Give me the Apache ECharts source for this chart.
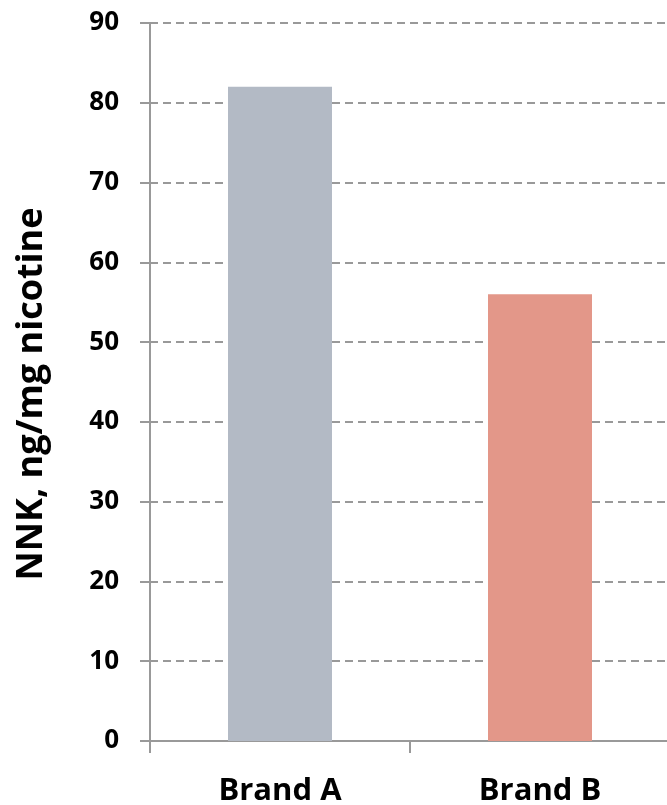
<!DOCTYPE html>
<html>
<head>
<meta charset="utf-8">
<script src="https://cdn.jsdelivr.net/npm/echarts@6/dist/echarts.min.js"></script>
<style>
html,body{margin:0;padding:0;background:#fff;}
#chart{width:667px;height:805px;}
</style>
</head>
<body>
<div id="chart"></div>
<script>
const categories = ['Brand A', 'Brand B'];
const values = [82, 56];
const barColors = ['#B3BAC5', '#E39789'];
const yTitle = 'NNK, ng/mg nicotine';
const yMin = 0, yMax = 90, yStep = 10;

const chart = echarts.init(document.getElementById('chart'), null, {renderer: 'canvas'});
const axisColor = '#999999';
const fontFam = '"Open Sans"';
chart.setOption({
  animation: false,
  backgroundColor: '#ffffff',
  grid: {left: 150, top: 23, width: 520, height: 718, outerBoundsMode: 'none', containLabel: false},
  xAxis: {
    type: 'category',
    data: categories,
    boundaryGap: true,
    axisLine: {show: true, lineStyle: {color: axisColor, width: 2}},
    axisTick: {show: true, length: 12, lineStyle: {color: axisColor, width: 2}},
    axisLabel: {color: '#000', fontFamily: fontFam, fontWeight: 'bold', fontSize: 31, margin: 35}
  },
  yAxis: {
    type: 'value',
    min: yMin, max: yMax, interval: yStep,
    axisLine: {show: true, lineStyle: {color: axisColor, width: 2}},
    axisTick: {show: true, length: 10, lineStyle: {color: axisColor, width: 2}},
    axisLabel: {color: '#000', fontFamily: fontFam, fontWeight: 'bold', fontSize: 26, margin: 31},
    splitLine: {show: true, lineStyle: {color: axisColor, width: 2, type: [8, 5]}}
  },
  graphic: [{
    type: 'text',
    x: 32, y: 394,
    rotation: Math.PI / 2,
    style: {
      text: yTitle,
      font: 'bold 36px "Open Sans"',
      fill: '#000',
      align: 'center',
      verticalAlign: 'middle'
    }
  }],
  series: [{
    type: 'bar',
    barWidth: '40%',
    data: values.map((v, i) => ({value: v, itemStyle: {color: barColors[i]}}))
  }]
});
</script>
</body>
</html>
